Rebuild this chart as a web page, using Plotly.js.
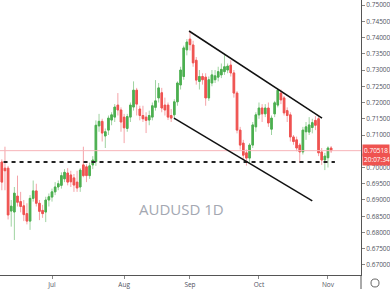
<!DOCTYPE html>
<html><head><meta charset="utf-8">
<script src="https://cdn.plot.ly/plotly-3.0.1.min.js"></script>
<style>html,body{margin:0;padding:0;background:#fff;}#chart{width:390px;height:289px;}</style>
</head><body><div id="chart"></div>
<script>
const dates = ["2020-06-08","2020-06-09","2020-06-10","2020-06-11","2020-06-12","2020-06-15","2020-06-16","2020-06-17","2020-06-18","2020-06-19","2020-06-22","2020-06-23","2020-06-24","2020-06-25","2020-06-26","2020-06-29","2020-06-30",
"2020-07-01","2020-07-02","2020-07-03","2020-07-06","2020-07-07","2020-07-08","2020-07-09","2020-07-10","2020-07-13","2020-07-14","2020-07-15","2020-07-16","2020-07-17","2020-07-20","2020-07-21","2020-07-22","2020-07-23","2020-07-24","2020-07-27","2020-07-28","2020-07-29","2020-07-30","2020-07-31",
"2020-08-03","2020-08-04","2020-08-05","2020-08-06","2020-08-07","2020-08-10","2020-08-11","2020-08-12","2020-08-13","2020-08-14","2020-08-17","2020-08-18","2020-08-19","2020-08-20","2020-08-21","2020-08-24","2020-08-25","2020-08-26","2020-08-27","2020-08-28","2020-08-31",
"2020-09-01","2020-09-02","2020-09-03","2020-09-04","2020-09-07","2020-09-08","2020-09-09","2020-09-10","2020-09-11","2020-09-14","2020-09-15","2020-09-16","2020-09-17","2020-09-18","2020-09-21","2020-09-22","2020-09-23","2020-09-24","2020-09-25","2020-09-28","2020-09-29","2020-09-30",
"2020-10-01","2020-10-02","2020-10-05","2020-10-06","2020-10-07","2020-10-08","2020-10-09","2020-10-12","2020-10-13","2020-10-14","2020-10-15","2020-10-16","2020-10-19","2020-10-20","2020-10-21","2020-10-22","2020-10-23","2020-10-26","2020-10-27","2020-10-28","2020-10-29","2020-10-30",
"2020-11-02","2020-11-03"];
const openP = [0.6965,0.7017,0.6998,0.6998,0.6866,0.6863,0.6912,0.6895,0.6882,0.6858,0.6835,0.6905,0.6928,0.6890,0.6868,0.6863,0.6900,
0.6909,0.6925,0.6940,0.6945,0.6965,0.6983,0.6977,0.6968,0.6955,0.6940,0.7008,0.7002,0.6975,0.7008,0.7018,0.7128,0.7142,0.7097,0.7115,0.7146,0.7155,0.7192,0.7177,
0.7155,0.7120,0.7155,0.7186,0.7238,0.7180,0.7160,0.7155,0.7146,0.7155,0.7185,0.7214,0.7230,0.7192,0.7192,0.7160,0.7162,0.7202,0.7254,0.7280,0.7362,
0.7395,0.7377,0.7330,0.7265,0.7280,0.7278,0.7214,0.7260,0.7270,0.7278,0.7285,0.7295,0.7300,0.7315,0.7291,0.7229,0.7115,0.7075,0.7045,0.7029,0.7069,0.7125,
0.7162,0.7183,0.7165,0.7183,0.7118,0.7165,0.7192,0.7229,0.7214,0.7175,0.7162,0.7094,0.7085,0.7069,0.7048,0.7110,0.7109,0.7123,0.7145,0.7150,0.7048,0.7023,
0.7030,0.7060];
const highP = [0.7030,0.7025,0.7064,0.7005,0.6900,0.6940,0.6975,0.6925,0.6900,0.6890,0.6915,0.6960,0.6950,0.6900,0.6885,0.6910,0.6920,
0.6935,0.6955,0.6960,0.6985,0.6995,0.6998,0.6990,0.6980,0.6990,0.6998,0.7064,0.7010,0.7015,0.7035,0.7145,0.7165,0.7150,0.7120,0.7160,0.7170,0.7195,0.7229,0.7185,
0.7165,0.7165,0.7200,0.7265,0.7245,0.7190,0.7190,0.7170,0.7175,0.7200,0.7269,0.7260,0.7245,0.7215,0.7200,0.7180,0.7210,0.7265,0.7310,0.7375,0.7395,
0.7417,0.7390,0.7340,0.7300,0.7290,0.7290,0.7280,0.7300,0.7300,0.7310,0.7320,0.7346,0.7320,0.7330,0.7300,0.7235,0.7125,0.7085,0.7055,0.7075,0.7140,0.7170,
0.7200,0.7195,0.7195,0.7200,0.7160,0.7205,0.7243,0.7240,0.7220,0.7185,0.7170,0.7100,0.7095,0.7075,0.7125,0.7140,0.7155,0.7150,0.7158,0.7158,0.7060,0.7045,
0.7065,0.7066];
const lowP = [0.6950,0.6930,0.6930,0.6840,0.6818,0.6777,0.6880,0.6862,0.6835,0.6825,0.6808,0.6895,0.6880,0.6838,0.6845,0.6832,0.6880,
0.6895,0.6915,0.6930,0.6935,0.6955,0.6945,0.6940,0.6925,0.6925,0.6925,0.6970,0.6955,0.6965,0.6995,0.7005,0.7110,0.7080,0.7060,0.7100,0.7130,0.7140,0.7160,0.7110,
0.7075,0.7110,0.7140,0.7175,0.7160,0.7145,0.7140,0.7106,0.7130,0.7145,0.7175,0.7200,0.7170,0.7160,0.7146,0.7140,0.7148,0.7190,0.7240,0.7270,0.7345,
0.7360,0.7310,0.7255,0.7240,0.7255,0.7190,0.7205,0.7250,0.7260,0.7265,0.7275,0.7285,0.7290,0.7280,0.7215,0.7105,0.7055,0.7025,0.7006,0.7015,0.7060,0.7110,
0.7150,0.7140,0.7155,0.7125,0.7100,0.7155,0.7185,0.7195,0.7160,0.7140,0.7080,0.7070,0.7050,0.7014,0.7040,0.7085,0.7100,0.7105,0.7115,0.7035,0.7008,0.6992,
0.7000,0.7045];
const closeP = [0.7017,0.6955,0.6990,0.6854,0.6881,0.6921,0.6893,0.6880,0.6855,0.6835,0.6905,0.6928,0.6890,0.6865,0.6858,0.6900,0.6910,
0.6925,0.6940,0.6950,0.6975,0.6985,0.6955,0.6956,0.6946,0.6937,0.6992,0.6975,0.6975,0.7005,0.7023,0.7130,0.7142,0.7106,0.7110,0.7152,0.7162,0.7186,0.7177,0.7140,
0.7122,0.7157,0.7192,0.7238,0.7195,0.7160,0.7150,0.7145,0.7160,0.7190,0.7205,0.7245,0.7183,0.7177,0.7155,0.7152,0.7202,0.7260,0.7300,0.7368,0.7386,
0.7378,0.7322,0.7269,0.7280,0.7270,0.7214,0.7270,0.7285,0.7282,0.7295,0.7302,0.7310,0.7312,0.7291,0.7229,0.7115,0.7069,0.7038,0.7029,0.7069,0.7131,0.7162,
0.7183,0.7165,0.7183,0.7137,0.7152,0.7199,0.7238,0.7208,0.7168,0.7160,0.7094,0.7080,0.7060,0.7048,0.7115,0.7125,0.7131,0.7138,0.7130,0.7045,0.7023,0.7035,
0.7060,0.70518];
const monthTickDates = ["2020-07-01","2020-08-03","2020-09-01","2020-10-01","2020-11-02"];
const monthTickLabels = ["Jul","Aug","Sep","Oct","Nov"];
// price ticks shown on the axis (0.70500 sits under the last-price label)
const priceTicks = [0.67,0.675,0.68,0.685,0.69,0.695,0.70,0.71,0.715,0.72,0.725,0.73,0.735,0.74,0.745,0.75];
const priceTickLabels = ["0.67000","0.67500","0.68000","0.68500","0.69000","0.69500","0.70000","0.71000","0.71500","0.72000","0.72500","0.73000","0.73500","0.74000","0.74500","0.75000"];
const supportLevel = 0.7017;
const lastPrice = 0.70518;
const lastPriceText = "0.70518";
const countdownText = "20:07:34";
const chartLabel = "AUDUSD 1D";
// hand-drawn channel lines: [index, price]
const upperChannel = [[60.7, 0.7420], [103.1, 0.7152]];
const lowerChannel = [[55.9, 0.7152], [100.0, 0.6897]];

const bodyHigh = openP.map((o, i) => Math.max(o, closeP[i]));
const bodyLow = openP.map((o, i) => Math.min(o, closeP[i]));

const upCol = '#4caf50', downCol = '#ef5350';
const wickUp = '#9fd3a1', wickDown = '#f5a3a8';

const wickTrace = {
  type: 'candlestick', x: dates, open: openP, high: highP, low: lowP, close: closeP,
  increasing: {line: {color: wickUp, width: 1}, fillcolor: wickUp},
  decreasing: {line: {color: wickDown, width: 1}, fillcolor: wickDown},
  whiskerwidth: 0, hoverinfo: 'skip', showlegend: false
};
const bodyTrace = {
  type: 'candlestick', x: dates, open: openP, high: bodyHigh, low: bodyLow, close: closeP,
  increasing: {line: {color: upCol, width: 1}, fillcolor: upCol},
  decreasing: {line: {color: downCol, width: 1}, fillcolor: downCol},
  whiskerwidth: 0, hoverinfo: 'skip', showlegend: false
};

const font = "Open Sans, Roboto, sans-serif";
const layout = {
  width: 390, height: 289,
  margin: {l: 0, r: 29, t: 0, b: 14, pad: 0},
  paper_bgcolor: '#ffffff', plot_bgcolor: '#ffffff',
  showlegend: false, hovermode: false,
  xaxis: {
    type: 'category', range: [0.42, 115.53], rangeslider: {visible: false},
    tickmode: 'array', tickvals: monthTickDates, ticktext: monthTickLabels,
    showgrid: false, zeroline: false, showline: true, linecolor: '#555', linewidth: 1,
    ticks: 'outside', ticklen: 3, tickcolor: '#888',
    tickfont: {family: font, size: 6.5, color: '#50535e'}
  },
  yaxis: {
    side: 'right', range: [0.66692, 0.75154],
    tickmode: 'array', tickvals: priceTicks, ticktext: priceTickLabels,
    showgrid: false, zeroline: false, showline: true, linecolor: '#555', linewidth: 1,
    ticks: 'outside', ticklen: 3, tickcolor: '#888',
    tickfont: {family: font, size: 6.5, color: '#50535e'}
  },
  shapes: [
    {type: 'line', xref: 'paper', yref: 'y', x0: 0, x1: 1, y0: lastPrice, y1: lastPrice,
     line: {color: '#f7b4b8', width: 1}},
    {type: 'line', xref: 'x', yref: 'y', x0: -1, x1: 107.2, y0: supportLevel, y1: supportLevel,
     line: {color: '#222', width: 2, dash: '4px,4px'}},
    {type: 'line', xref: 'x', yref: 'y', x0: upperChannel[0][0], y0: upperChannel[0][1], x1: upperChannel[1][0], y1: upperChannel[1][1],
     line: {color: '#111', width: 1.5}},
    {type: 'line', xref: 'x', yref: 'y', x0: lowerChannel[0][0], y0: lowerChannel[0][1], x1: lowerChannel[1][0], y1: lowerChannel[1][1],
     line: {color: '#111', width: 1.5}},
    {type: 'line', xref: 'paper', yref: 'paper', x0: 1, x1: 1, y0: -0.06, y1: 0,
     line: {color: '#555', width: 1}},
    {type: 'circle', xref: 'paper', yref: 'paper', x0: 1.0277, x1: 1.0499, y0: -0.0436, y1: -0.0145,
     line: {color: '#666', width: 1}}
  ],
  annotations: [
    {xref: 'paper', yref: 'paper', x: 0.504, y: 0.196, text: chartLabel, showarrow: false,
     font: {family: font, size: 15, color: '#a4a8b2'}},
    {xref: 'paper', yref: 'y', x: 1.003, y: lastPrice, xanchor: 'left', yanchor: 'middle', text: lastPriceText,
     showarrow: false, bgcolor: downCol, borderpad: 1, font: {family: font, size: 6.5, color: '#ffffff'}},
    {xref: 'paper', yref: 'y', x: 1.003, y: lastPrice, yshift: -8.5, xanchor: 'left', yanchor: 'middle', text: countdownText,
     showarrow: false, bgcolor: downCol, borderpad: 1, font: {family: font, size: 6.5, color: '#ffffff'}}
  ]
};

Plotly.newPlot('chart', [wickTrace, bodyTrace], layout, {staticPlot: true, displayModeBar: false});
</script></body></html>
